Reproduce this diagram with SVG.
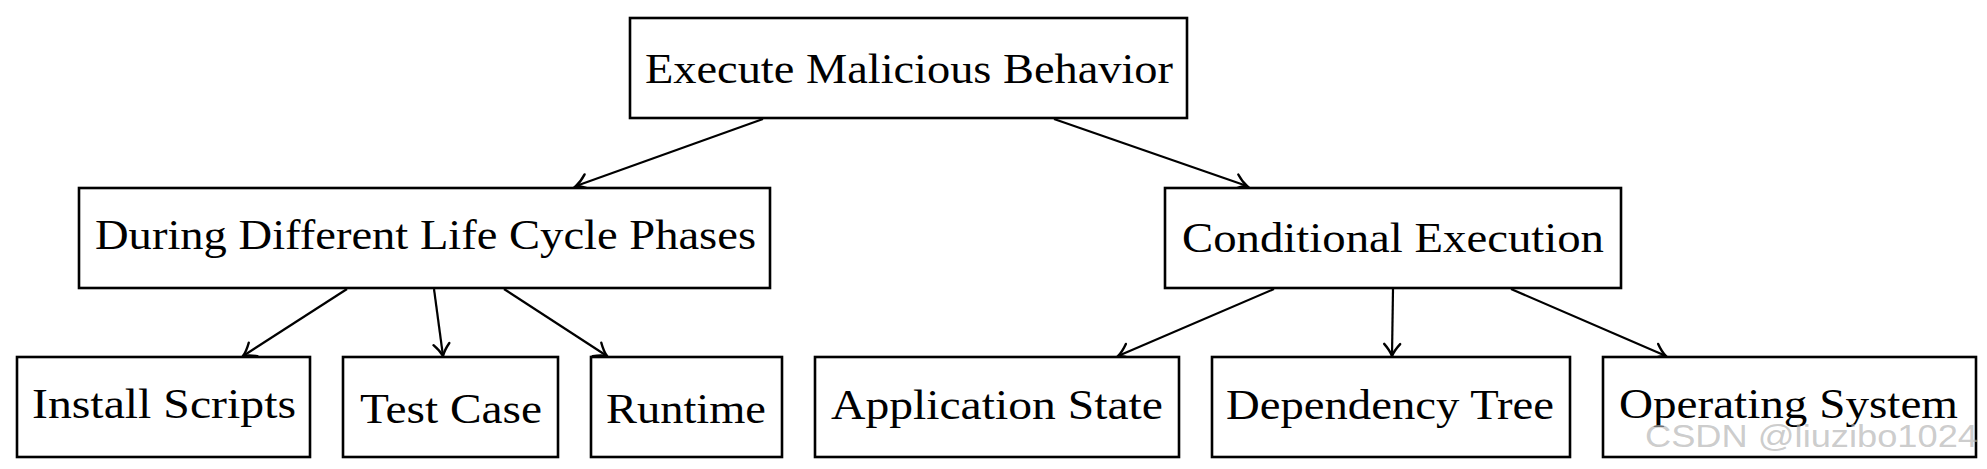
<svg xmlns="http://www.w3.org/2000/svg" width="1987" height="469" viewBox="0 0 1987 469">
<style>
.box{fill:#fff;stroke:#000;stroke-width:2.6}
.lbl{font-family:"Liberation Serif","DejaVu Serif",serif;font-size:42px;fill:#000}
.edge{stroke:#000;stroke-width:2.2;fill:none;marker-end:url(#to)}
.wm{font-family:"Liberation Sans",Arial,sans-serif;font-size:32px;fill:#b0b0b0;fill-opacity:0.65}
</style>
<defs>
<marker id="to" markerUnits="userSpaceOnUse" viewBox="-14 -10 16 20" refX="0" refY="0" markerWidth="16" markerHeight="20" orient="auto" overflow="visible">
<path d="M -12 -8 C -7 -3.5 -2.5 -1 0 0 C -2.5 1 -7 3.5 -12 8" fill="none" stroke="#000" stroke-width="2.4" stroke-linecap="round"/>
</marker>
</defs>
<rect width="1987" height="469" fill="#fff"/>
<g id="connectors">
<line class="edge" x1="763" y1="119" x2="576" y2="186"/>
<line class="edge" x1="1054" y1="119" x2="1247" y2="186"/>
<line class="edge" x1="347" y1="289" x2="243" y2="356"/>
<line class="edge" x1="434" y1="289" x2="443" y2="356"/>
<line class="edge" x1="504" y1="289" x2="607" y2="356"/>
<line class="edge" x1="1274" y1="289" x2="1118" y2="356"/>
<line class="edge" x1="1393" y1="289" x2="1392" y2="356"/>
<line class="edge" x1="1511" y1="289" x2="1666" y2="356"/>
</g>
<g id="n-root">
<rect class="box" x="630" y="18" width="557" height="100"/>
<text class="lbl" x="645" y="83" textLength="528" lengthAdjust="spacingAndGlyphs">Execute Malicious Behavior</text>
</g>
<g id="n-lifecycle">
<rect class="box" x="79" y="188" width="691" height="100"/>
<text class="lbl" x="95" y="249" textLength="661" lengthAdjust="spacingAndGlyphs">During Different Life Cycle Phases</text>
</g>
<g id="n-conditional">
<rect class="box" x="1165" y="188" width="456" height="100"/>
<text class="lbl" x="1182" y="252" textLength="422" lengthAdjust="spacingAndGlyphs">Conditional Execution</text>
</g>
<g id="n-install">
<rect class="box" x="17" y="357" width="293" height="100"/>
<text class="lbl" x="32" y="418" textLength="264" lengthAdjust="spacingAndGlyphs">Install Scripts</text>
</g>
<g id="n-test">
<rect class="box" x="343" y="357" width="215" height="100"/>
<text class="lbl" x="360" y="423" textLength="182" lengthAdjust="spacingAndGlyphs">Test Case</text>
</g>
<g id="n-runtime">
<rect class="box" x="591" y="357" width="191" height="100"/>
<text class="lbl" x="606" y="423" textLength="160" lengthAdjust="spacingAndGlyphs">Runtime</text>
</g>
<g id="n-appstate">
<rect class="box" x="815" y="357" width="364" height="100"/>
<text class="lbl" x="831" y="419" textLength="332" lengthAdjust="spacingAndGlyphs">Application State</text>
</g>
<g id="n-deptree">
<rect class="box" x="1212" y="357" width="358" height="100"/>
<text class="lbl" x="1226" y="419" textLength="328" lengthAdjust="spacingAndGlyphs">Dependency Tree</text>
</g>
<g id="n-os">
<rect class="box" x="1603" y="357" width="373" height="100"/>
<text class="lbl" x="1619" y="418" textLength="339" lengthAdjust="spacingAndGlyphs">Operating System</text>
</g>
<text class="wm" x="1645" y="447" textLength="333" lengthAdjust="spacingAndGlyphs">CSDN @liuzibo1024</text>
</svg>
